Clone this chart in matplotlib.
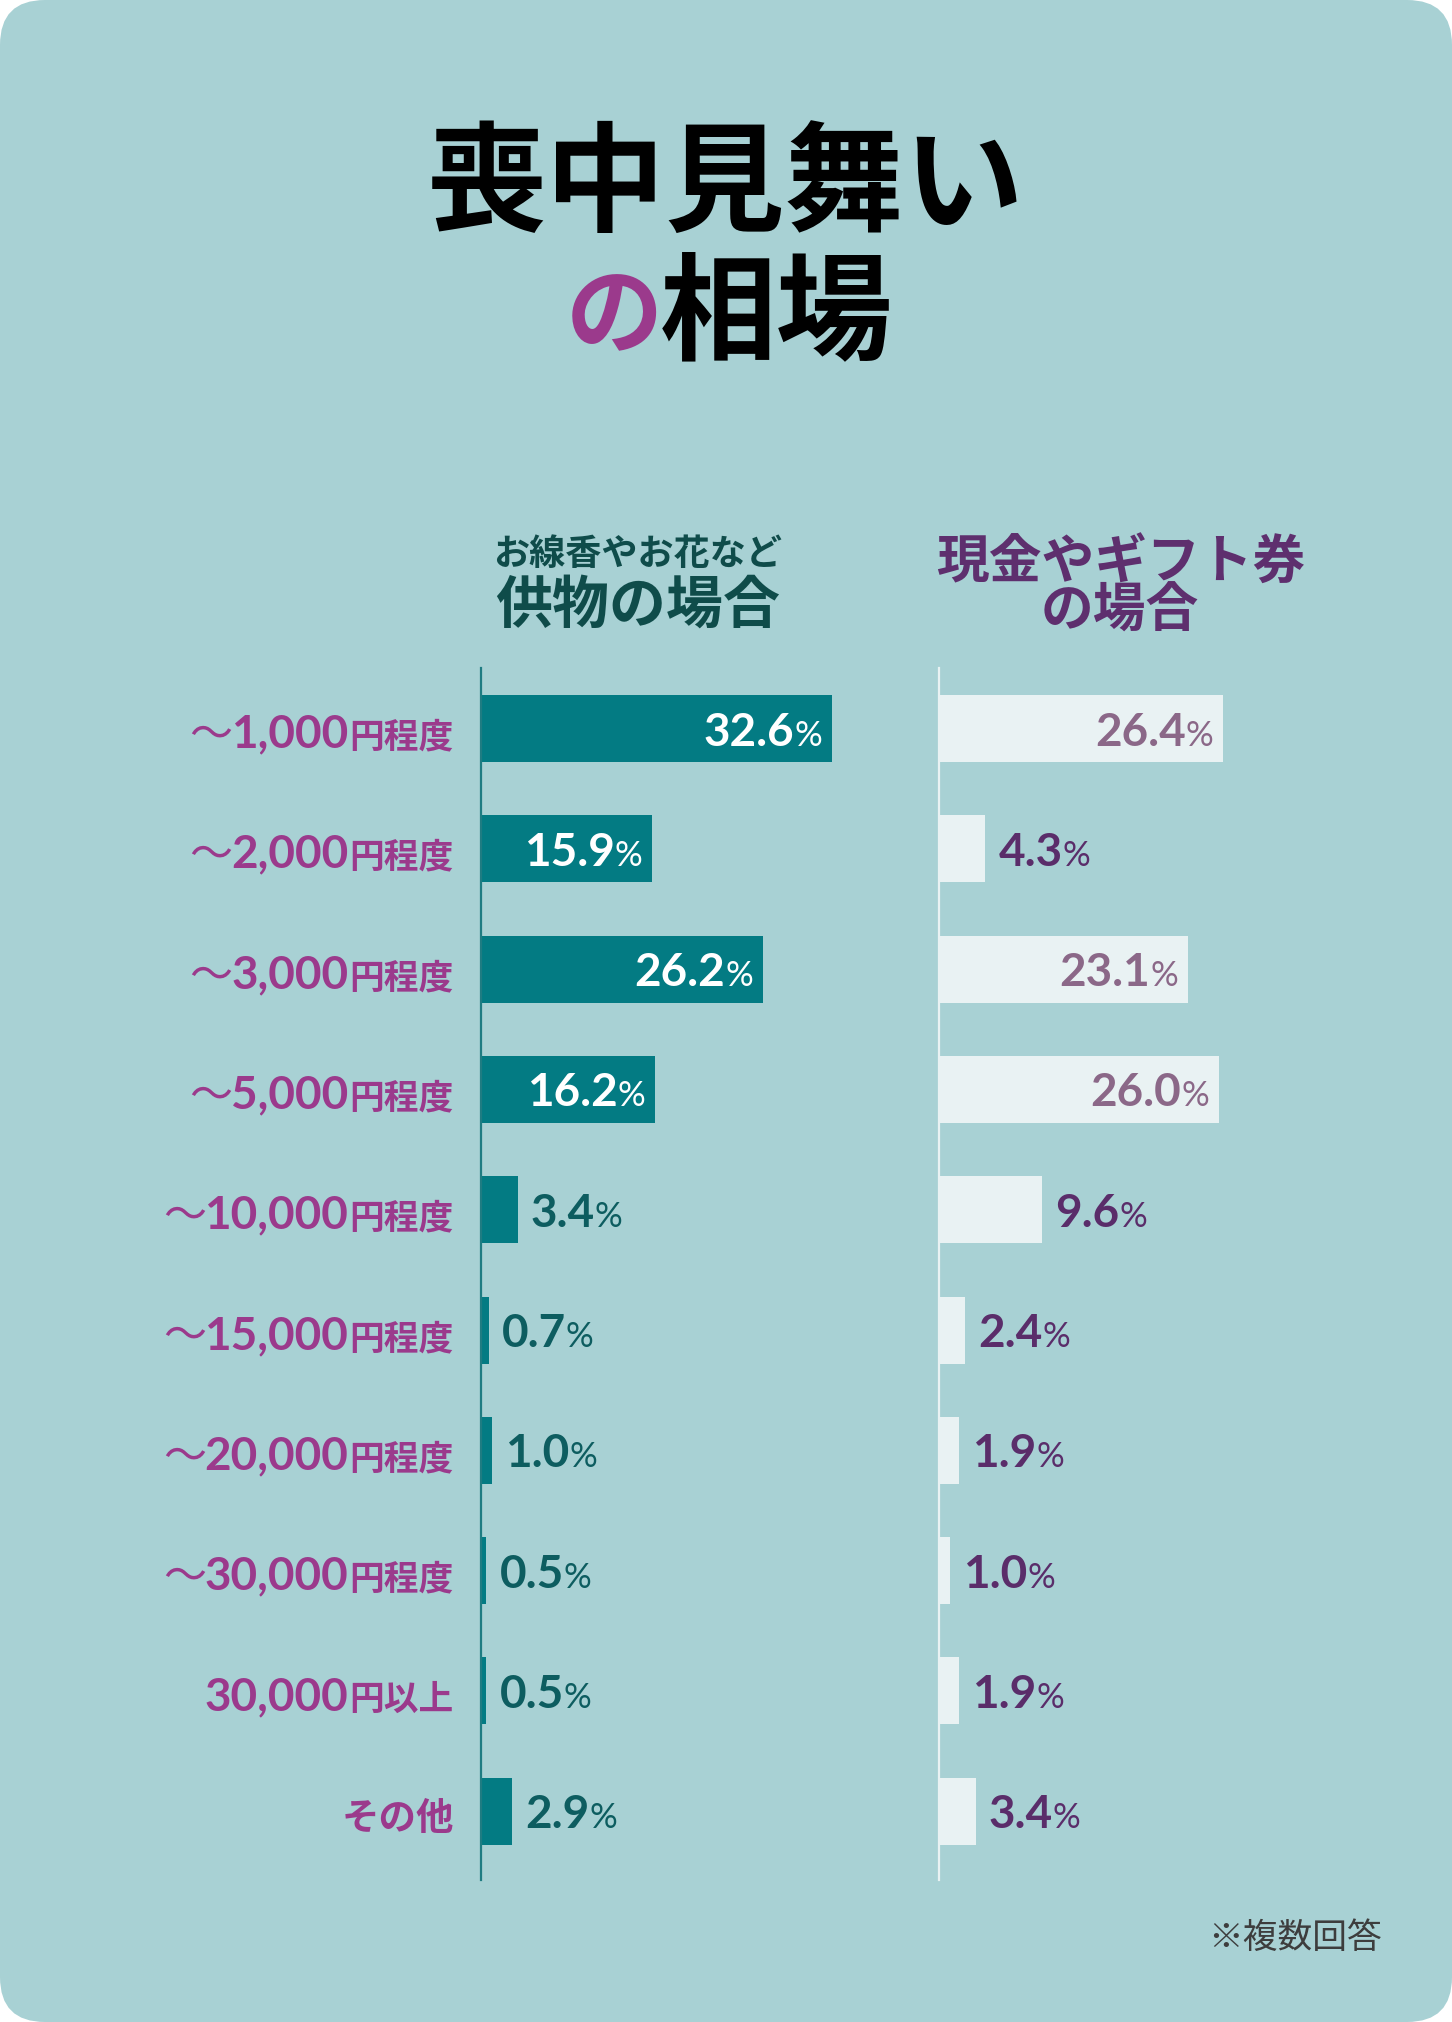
import matplotlib
matplotlib.use("Agg")
import matplotlib.pyplot as plt
from matplotlib.patches import FancyBboxPatch
from matplotlib.transforms import blended_transform_factory

# data
cat_prefix = ["〜1,000", "〜2,000", "〜3,000", "〜5,000", "〜10,000",
              "〜15,000", "〜20,000", "〜30,000", "30,000", "その他"]
cat_suffix = ["円程度"] * 8 + ["円以上", ""]
goods = [32.6, 15.9, 26.2, 16.2, 3.4, 0.7, 1.0, 0.5, 0.5, 2.9]
cash = [26.4, 4.3, 23.1, 26.0, 9.6, 2.4, 1.9, 1.0, 1.9, 3.4]

BG = "#A8D1D4"
TEAL = "#037B83"
LIGHT = "#E9F2F3"
MAGENTA = "#9B3A8C"
DARK_GREEN = "#0F4C4A"
PURPLE = "#5E2F6E"
CJK = ["Noto Sans CJK JP", "DejaVu Sans"]
NUM = ["Lato", "Noto Sans CJK JP", "DejaVu Sans"]

W, H = 1452, 2022
fig = plt.figure(figsize=(W / 100, H / 100), dpi=100)
fig.patch.set_facecolor("white")

# background axes in pixel units
bg = fig.add_axes([0, 0, 1, 1])
bg.set_xlim(0, W)
bg.set_ylim(H, 0)
bg.axis("off")
bg.add_patch(FancyBboxPatch((0, 0), W, H, boxstyle="round,pad=0,rounding_size=45",
                            fc=BG, ec="none"))

# title
bg.text(726, 187, "喪中見舞い", ha="center", va="center", fontsize=86,
        fontweight="bold", family=CJK, color="black")
bg.text(663, 318, "の", ha="right", va="center", fontsize=70,
        fontweight="bold", family=CJK, color=MAGENTA)
bg.text(660, 316, "相場", ha="left", va="center", fontsize=84,
        fontweight="bold", family=CJK, color="black")

# column headers
bg.text(638, 555, "お線香やお花など", ha="center", va="center", fontsize=26,
        fontweight="bold", family=CJK, color=DARK_GREEN)
bg.text(638, 606, "供物の場合", ha="center", va="center", fontsize=41,
        fontweight="bold", family=CJK, color=DARK_GREEN)
bg.text(1121, 563, "現金やギフト券", ha="center", va="center", fontsize=38,
        fontweight="bold", family=CJK, color=PURPLE)
bg.text(1120, 611, "の場合", ha="center", va="center", fontsize=38,
        fontweight="bold", family=CJK, color=PURPLE)

bg.text(1382, 1938, "※複数回答", ha="right", va="center", fontsize=25,
        family=CJK, color="#3D3D3D")

# bar axes geometry (pixels)
px_per_pct = 10.77
ax_w = 430
top, bottom = 668, 1880
n = len(goods)
row = 120.3


def make_ax(x0):
    ax = fig.add_axes([x0 / W, 1 - bottom / H, ax_w / W, (bottom - top) / H])
    ax.set_xlim(0, ax_w / px_per_pct)
    ax.set_ylim((bottom - top) / row - 0.503, -0.503)
    ax.patch.set_alpha(0)
    for s in ["top", "right", "bottom"]:
        ax.spines[s].set_visible(False)
    ax.set_xticks([])
    ax.set_yticks([])
    return ax


ax1 = make_ax(481)
ax2 = make_ax(939)
ax1.spines["left"].set_color("#1F7C82")
ax1.spines["left"].set_linewidth(1.6)
ax2.spines["left"].set_color(LIGHT)
ax2.spines["left"].set_linewidth(1.6)

ypos = list(range(n))
ax1.barh(ypos, goods, height=0.557, color=TEAL)
ax2.barh(ypos, cash, height=0.557, color=LIGHT)

base_off = 17 / row   # baseline below bar centre
pad = 10 / px_per_pct


def value_labels(ax, vals, thresh, in_color, out_color):
    for i, v in enumerate(vals):
        y = i + base_off
        num = f"{v:.1f}"
        if v >= thresh:
            pct = ax.text(v - pad, y, "%", ha="right", va="baseline", fontsize=25,
                          family=NUM, color=in_color)
            ax.annotate(num, xy=(0, y), xycoords=(pct, "data"), ha="right",
                        va="baseline", fontsize=33, fontweight="bold",
                        family=NUM, color=in_color)
        else:
            t = ax.text(v + 13 / px_per_pct, y, num, ha="left", va="baseline",
                        fontsize=33, fontweight="bold", family=NUM,
                        color=out_color)
            ax.annotate("%", xy=(1, y), xycoords=(t, "data"), ha="left",
                        va="baseline", fontsize=25, family=NUM, color=out_color)


value_labels(ax1, goods, 12, "white", "#0D5D60")
value_labels(ax2, cash, 12, "#8B6888", "#5A2D6A")

# category labels
tr = blended_transform_factory(ax1.transAxes, ax1.transData)
lx = (454 - 481) / ax_w
for i, (p, s) in enumerate(zip(cat_prefix, cat_suffix)):
    y = i + base_off + 2 / row
    if not s:
        ax1.text(lx, y, p, transform=tr, ha="right", va="baseline",
                 fontsize=27, fontweight="bold", family=CJK, color=MAGENTA)
        continue
    st = ax1.text(lx, y, s, transform=tr, ha="right", va="baseline",
                  fontsize=25, fontweight="bold", family=CJK, color=MAGENTA)
    digits = p.lstrip("〜")
    dt = ax1.annotate(digits, xy=(0, y), xycoords=(st, "data"), xytext=(-1, 0),
                      textcoords="offset points", ha="right", va="baseline",
                      fontsize=33, fontweight="bold", family=NUM, color=MAGENTA)
    if p.startswith("〜"):
        ax1.annotate("〜", xy=(0, y), xycoords=(dt, "data"), xytext=(1, 0),
                     textcoords="offset points", ha="right", va="baseline",
                     fontsize=31, family=CJK, color=MAGENTA)

fig.savefig("out.png", dpi=100, facecolor="white")
